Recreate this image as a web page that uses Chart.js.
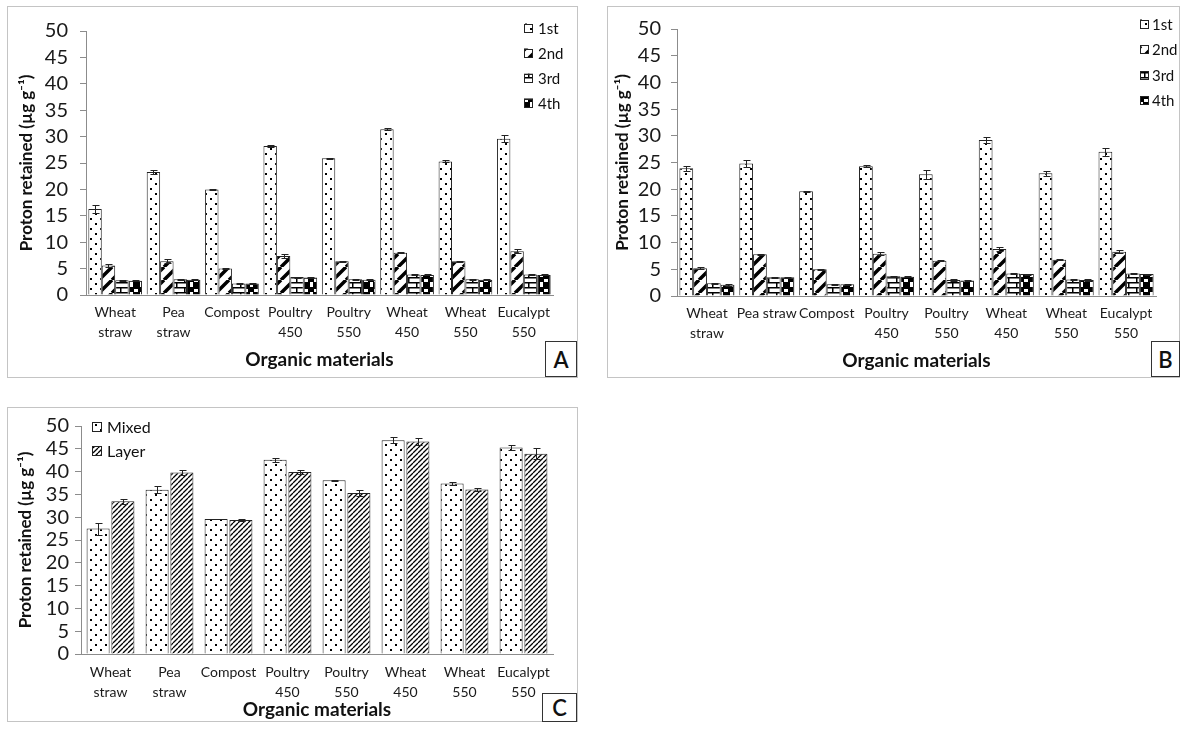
<!DOCTYPE html>
<html lang="en">
<head>
<meta charset="UTF-8">
<title>Proton retained by organic materials</title>
<script src="https://cdn.jsdelivr.net/npm/chart.js"></script>
<style>
  body { margin: 0; background: #fff; font-family: Lato, sans-serif; }
  .panel { position: absolute; border: 1px solid #c4c4c4; background: #fff; }
  .panel canvas { position: absolute; left: 0; top: 0; }
  .tag {
    position: absolute; box-sizing: border-box; border: 1px solid #333; background: #fff;
    font: 600 22px Lato, sans-serif; color: #111;
    display: flex; align-items: center; justify-content: center;
  }
</style>
</head>
<body>
<div class="panel" style="left:7px;top:6px;width:569px;height:370px"><canvas id="chartA" width="569" height="370"></canvas></div>
<div class="panel" style="left:607px;top:6px;width:571px;height:370px"><canvas id="chartB" width="571" height="370"></canvas></div>
<div class="panel" style="left:7px;top:407px;width:569px;height:313px"><canvas id="chartC" width="569" height="313"></canvas></div>
<div class="tag" style="left:545px;top:341px;width:32px;height:36px">A</div>
<div class="tag" style="left:1151px;top:341px;width:29px;height:36px">B</div>
<div class="tag" style="left:542px;top:693px;width:35px;height:29px">C</div>

<script>
// categories (line breaks as in the figure)
const categories = [['Wheat', 'straw'], ['Pea', 'straw'], 'Compost', ['Poultry', '450'], ['Poultry', '550'], ['Wheat', '450'], ['Wheat', '550'], ['Eucalypt', '550']];
const categoriesB = [['Wheat', 'straw'], 'Pea straw', 'Compost', ['Poultry', '450'], ['Poultry', '550'], ['Wheat', '450'], ['Wheat', '550'], ['Eucalypt', '550']];

// panel A - leaching events
const a1st = [16.3, 23.3, 20.0, 28.2, 25.9, 31.4, 25.3, 29.6];
const a2nd = [5.6, 6.4, 5.0, 7.4, 6.4, 8.0, 6.4, 8.3];
const a3rd = [2.8, 3.0, 2.2, 3.4, 3.0, 3.9, 3.0, 3.9];
const a4th = [2.7, 2.9, 2.2, 3.3, 2.9, 3.8, 2.9, 3.8];
const a1stErr = [0.8, 0.4, 0.15, 0.2, 0.1, 0.2, 0.2, 0.7];
const a2ndErr = [0.3, 0.4, 0.1, 0.3, 0.1, 0.1, 0.1, 0.4];
const a3rdErr = [0.1, 0.1, 0.1, 0.1, 0.1, 0.1, 0.1, 0.1];
const a4thErr = [0.1, 0.1, 0.1, 0.1, 0.1, 0.1, 0.1, 0.1];

// panel B
const b1st = [23.9, 24.8, 19.6, 24.3, 22.8, 29.2, 23.0, 27.0];
const b2nd = [5.2, 7.8, 5.0, 7.9, 6.6, 8.8, 6.8, 8.3];
const b3rd = [2.4, 3.5, 2.2, 3.7, 3.0, 4.2, 3.1, 4.2];
const b4th = [2.1, 3.5, 2.2, 3.6, 2.9, 4.1, 3.0, 4.1];
const b1stErr = [0.4, 0.6, 0.15, 0.2, 0.8, 0.6, 0.5, 0.8];
const b2ndErr = [0.2, 0.1, 0.1, 0.3, 0.1, 0.3, 0.1, 0.3];
const b3rdErr = [0.1, 0.1, 0.1, 0.1, 0.1, 0.1, 0.1, 0.1];
const b4thErr = [0.2, 0.1, 0.1, 0.1, 0.1, 0.1, 0.1, 0.1];

// panel C - application method
const mixed = [27.5, 36.0, 29.6, 42.6, 38.1, 46.9, 37.4, 45.3];
const layer = [33.5, 39.8, 29.4, 39.9, 35.3, 46.6, 36.1, 43.9];
const mixedErr = [1.3, 0.8, 0.05, 0.4, 0.1, 0.6, 0.3, 0.6];
const layerErr = [0.5, 0.5, 0.2, 0.5, 0.7, 0.8, 0.4, 1.2];

const yTicksMax = 50, yTickStep = 5;
const yTitle = 'Proton retained (µg g⁻¹)';
const xTitle = 'Organic materials';

// hatch patterns
function tile(w, h, draw) {
  const c = document.createElement('canvas');
  c.width = w; c.height = h;
  const g = c.getContext('2d');
  g.fillStyle = '#fff'; g.fillRect(0, 0, w, h);
  g.fillStyle = '#000'; g.strokeStyle = '#000';
  draw(g, w, h);
  return g.createPattern(c, 'repeat');
}
function diag(g, s, lw) {
  g.lineWidth = lw;
  g.beginPath();
  for (let k = -1; k <= 1; k++) { g.moveTo(k * s, s); g.lineTo(k * s + s, 0); }
  g.stroke();
}
const dots = tile(10, 10, g => { g.fillRect(2, 1, 2, 2); g.fillRect(7, 6, 2, 2); });
const stripes = tile(13, 13, (g, w) => diag(g, w, 3.5));
const bricks = tile(16, 10, g => {
  g.fillRect(0, 0, 16, 1.5); g.fillRect(0, 5, 16, 1.5);
  g.fillRect(0, 0, 1.5, 5); g.fillRect(8, 5, 1.5, 5);
});
const checks = tile(10, 10, g => {
  g.fillRect(0, 0, 10, 2); g.fillRect(0, 0, 6, 5); g.fillRect(5, 5, 5, 5); g.fillRect(0, 5, 2, 5);
});
const fineHatch = tile(5, 5, (g, w) => diag(g, w, 1.3));

const errorBars = {
  id: 'errorBars',
  afterDatasetsDraw(chart) {
    const ctx = chart.ctx, y = chart.scales.y;
    ctx.save();
    ctx.strokeStyle = '#222';
    ctx.lineWidth = 1;
    chart.data.datasets.forEach((ds, i) => {
      chart.getDatasetMeta(i).data.forEach((bar, j) => {
        const e = ds.errors[j], v = ds.data[j];
        if (!e) return;
        const t = Math.round(y.getPixelForValue(v + e)) + 0.5;
        const b = Math.round(y.getPixelForValue(v - e)) + 0.5;
        const x = Math.round(bar.x) + 0.5;
        ctx.beginPath();
        ctx.moveTo(x, t); ctx.lineTo(x, b);
        ctx.moveTo(x - 3, t); ctx.lineTo(x + 4, t);
        ctx.moveTo(x - 3, b); ctx.lineTo(x + 4, b);
        ctx.stroke();
      });
    });
    ctx.restore();
  }
};

const patternLegend = {
  id: 'patternLegend',
  afterDraw(chart, args, o) {
    const ctx = chart.ctx;
    ctx.save();
    ctx.font = o.font;
    ctx.textBaseline = 'middle';
    chart.data.datasets.forEach((ds, i) => {
      const cy = o.y + i * o.step;
      ctx.fillStyle = ds.backgroundColor;
      ctx.fillRect(o.x, cy - o.box / 2, o.box, o.box);
      ctx.strokeStyle = '#222';
      ctx.lineWidth = 1;
      ctx.strokeRect(o.x + 0.5, Math.round(cy - o.box / 2) + 0.5, o.box - 1, o.box - 1);
      ctx.fillStyle = '#111';
      ctx.fillText(ds.label, o.x + o.box + o.gap, cy + 1);
    });
    ctx.restore();
  }
};

function makeChart(id, labels, sets, g) {
  return new Chart(document.getElementById(id), {
    type: 'bar',
    data: {
      labels: labels,
      datasets: sets.map(s => ({
        label: s.label, data: s.data, errors: s.err,
        backgroundColor: s.fill, borderColor: '#222', borderWidth: 1,
        categoryPercentage: g.cat, barPercentage: g.bar
      }))
    },
    options: {
      responsive: false,
      animation: false,
      layout: { padding: { top: g.top, right: g.right, left: 0, bottom: 0 } },
      plugins: {
        legend: { display: false },
        tooltip: { enabled: false },
        patternLegend: g.legend
      },
      scales: {
        x: {
          grid: { display: false, drawTicks: false },
          border: { color: '#8c8c8c' },
          ticks: { color: '#1a1a1a', font: { family: 'Lato', size: 14, lineHeight: 1.4 }, padding: g.xPad, maxRotation: 0, autoSkip: false },
          title: { display: true, text: xTitle, color: '#111', font: { family: 'Lato', size: 19, weight: 'bold' }, padding: { top: 0, bottom: g.xTitlePad } },
          afterFit: s => { s.height = g.xh; }
        },
        y: {
          min: 0, max: yTicksMax,
          ticks: { stepSize: yTickStep, autoSkip: false, color: '#1a1a1a', font: { family: 'Lato', size: 20 }, padding: g.yPad },
          grid: { drawOnChartArea: false, tickLength: 6, color: '#8c8c8c' },
          border: { color: '#8c8c8c' },
          title: { display: true, text: yTitle, color: '#111', font: { family: 'Lato', size: 17, weight: 'bold' }, padding: { top: g.yTitlePad, bottom: 0 } },
          afterFit: s => { s.width = g.yw; }
        }
      }
    },
    plugins: [errorBars, patternLegend]
  });
}

makeChart('chartA', categories, [
  { label: '1st', data: a1st, err: a1stErr, fill: dots },
  { label: '2nd', data: a2nd, err: a2ndErr, fill: stripes },
  { label: '3rd', data: a3rd, err: a3rdErr, fill: bricks },
  { label: '4th', data: a4th, err: a4thErr, fill: checks }
], { yw: 78, xh: 82, top: 13, right: 24, cat: 0.92, bar: 1.0, xPad: 8, yPad: 12, xTitlePad: 6, yTitlePad: 8,
     legend: { x: 516, y: 21, step: 25, box: 9, gap: 5, font: '15px Lato' } });

makeChart('chartB', categoriesB, [
  { label: '1st', data: b1st, err: b1stErr, fill: dots },
  { label: '2nd', data: b2nd, err: b2ndErr, fill: stripes },
  { label: '3rd', data: b3rd, err: b3rdErr, fill: bricks },
  { label: '4th', data: b4th, err: b4thErr, fill: checks }
], { yw: 69, xh: 81, top: 13, right: 23, cat: 0.92, bar: 1.0, xPad: 8, yPad: 10, xTitlePad: 5, yTitlePad: 4,
     legend: { x: 532, y: 17, step: 25.5, box: 9, gap: 3, font: '15px Lato' } });

makeChart('chartC', categories, [
  { label: 'Mixed', data: mixed, err: mixedErr, fill: dots },
  { label: 'Layer', data: layer, err: layerErr, fill: fineHatch }
], { yw: 73, xh: 67, top: 13, right: 24, cat: 0.84, bar: 0.93, xPad: 9, yPad: 6, xTitlePad: 0, yTitlePad: 7,
     legend: { x: 84, y: 19, step: 24, box: 10, gap: 5, font: '16px Lato' } });
</script>
</body>
</html>
